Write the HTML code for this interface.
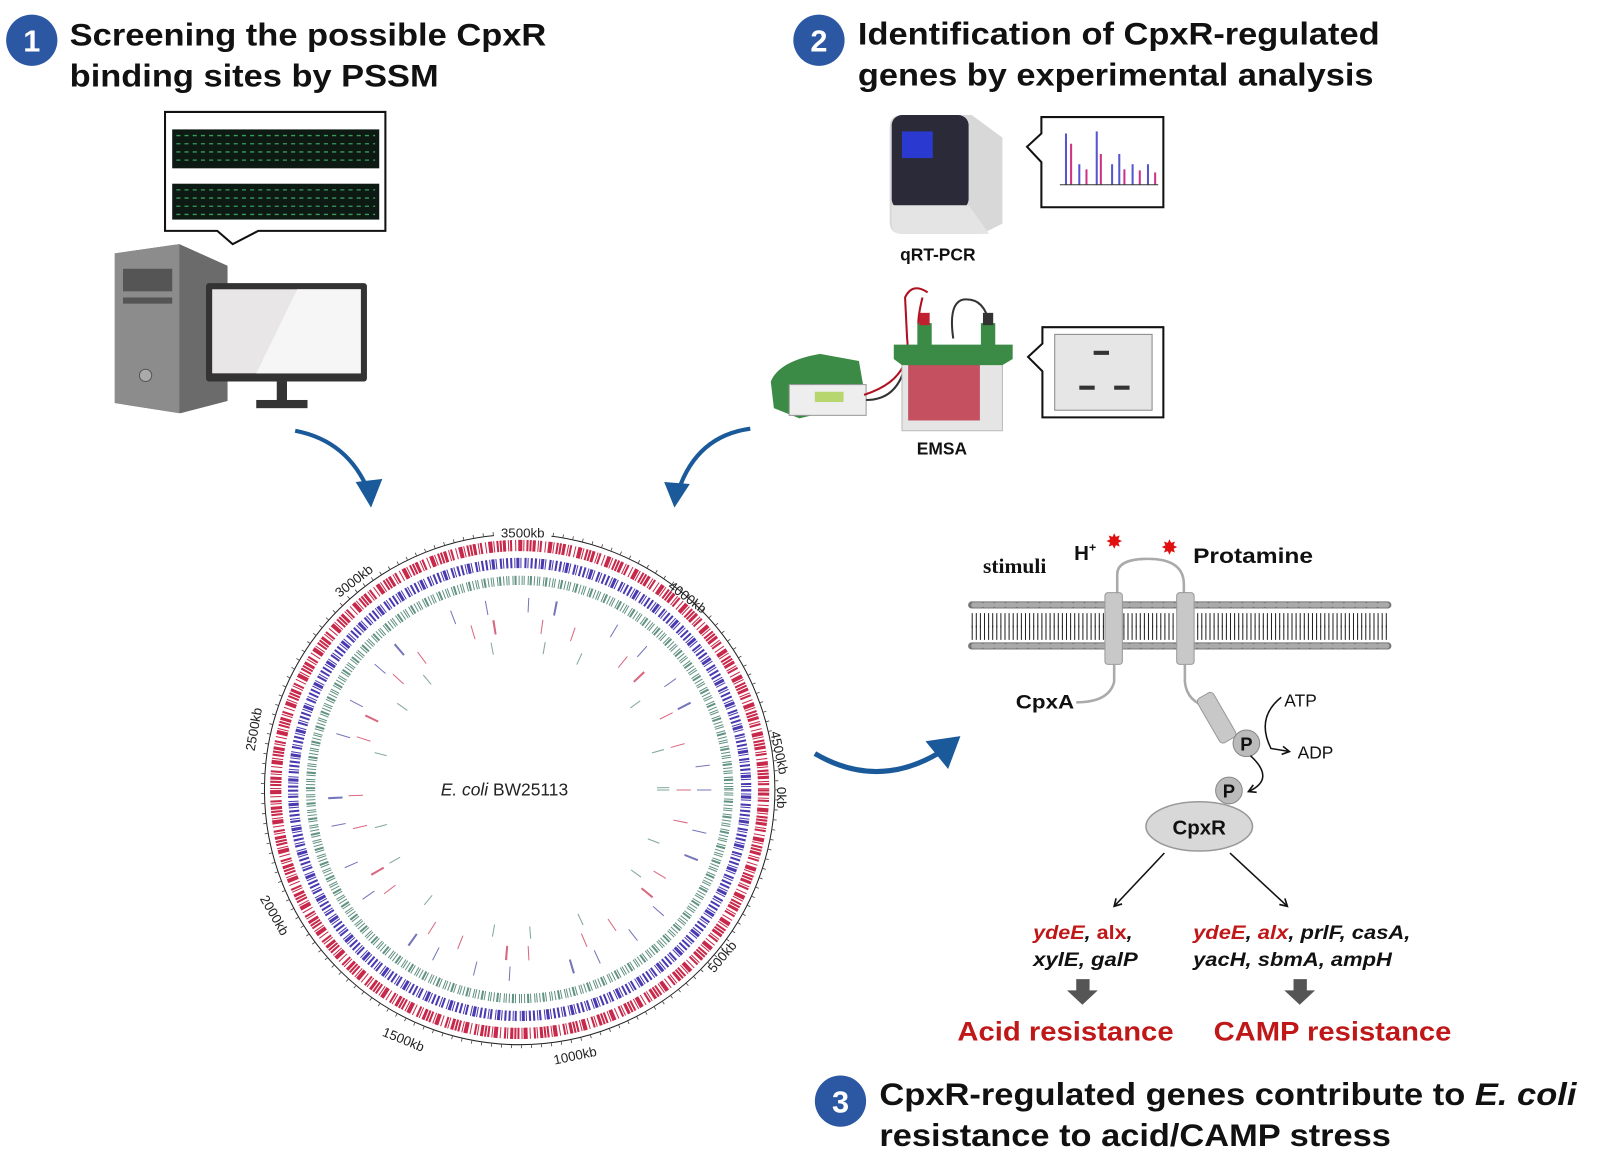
<!DOCTYPE html>
<html><head><meta charset="utf-8"><style>
html,body{margin:0;padding:0;background:#fff;width:1600px;height:1171px;overflow:hidden}
svg{display:block}
text{font-family:"Liberation Sans",Arial,sans-serif}
</style></head><body>
<svg width="1600" height="1171" viewBox="0 0 1561 1142" xmlns="http://www.w3.org/2000/svg">
<defs>
<marker id="ah" markerWidth="10" markerHeight="10" refX="8" refY="5" orient="auto" markerUnits="userSpaceOnUse"><path d="M1,1 L8,5 L1,9" fill="none" stroke="#111" stroke-width="1.6"/></marker>
</defs>
<!-- headings -->
<circle cx="31" cy="39" r="25" fill="#2b57a3"/>
<text x="31" y="50" font-size="30" font-weight="bold" fill="#fff" text-anchor="middle">1</text>
<text x="68" y="44" font-size="31" font-weight="bold" fill="#111" textLength="465" lengthAdjust="spacingAndGlyphs">Screening the possible CpxR</text>
<text x="68" y="84" font-size="31" font-weight="bold" fill="#111" textLength="360" lengthAdjust="spacingAndGlyphs">binding sites by PSSM</text>
<circle cx="799" cy="39" r="25" fill="#2b57a3"/>
<text x="799" y="50" font-size="30" font-weight="bold" fill="#fff" text-anchor="middle">2</text>
<text x="837" y="43" font-size="31" font-weight="bold" fill="#111" textLength="509" lengthAdjust="spacingAndGlyphs">Identification of CpxR-regulated</text>
<text x="837" y="83" font-size="31" font-weight="bold" fill="#111" textLength="503" lengthAdjust="spacingAndGlyphs">genes by experimental analysis</text>
<circle cx="820" cy="1074" r="25" fill="#2b57a3"/>
<text x="820" y="1085" font-size="30" font-weight="bold" fill="#fff" text-anchor="middle">3</text>
<text x="858" y="1078" font-size="31" font-weight="bold" fill="#111" textLength="680" lengthAdjust="spacingAndGlyphs">CpxR-regulated genes contribute to <tspan font-style="italic">E. coli</tspan></text>
<text x="858" y="1118" font-size="31" font-weight="bold" fill="#111" textLength="499" lengthAdjust="spacingAndGlyphs">resistance to acid/CAMP stress</text>

<!-- PSSM speech box -->
<path d="M161,109 H376 V225 H252 L227,238 L212,225 H161 Z" fill="#fff" stroke="#111" stroke-width="2"/>
<rect x="168" y="126" width="202" height="38" fill="#0d1a14"/>
<rect x="168" y="179" width="202" height="35" fill="#0d1a14"/>
<g stroke="#3b9a5a" stroke-width="1.3" stroke-dasharray="4 4">
<line x1="172" y1="132" x2="366" y2="132"/><line x1="172" y1="140" x2="366" y2="140"/><line x1="172" y1="148" x2="366" y2="148"/><line x1="172" y1="156" x2="366" y2="156"/>
<line x1="172" y1="185" x2="366" y2="185"/><line x1="172" y1="193" x2="366" y2="193"/><line x1="172" y1="201" x2="366" y2="201"/><line x1="172" y1="209" x2="366" y2="209"/>
</g>
<!-- computer -->
<path d="M112,247 L175,238 L222,259 V391 L176,403 L112,393 Z" fill="#6b6b6b"/>
<path d="M112,247 L175,238 V403 L112,393 Z" fill="#8c8c8c"/>
<rect x="120" y="262" width="48" height="22" fill="#555"/>
<rect x="120" y="290" width="48" height="6" fill="#555"/>
<circle cx="142" cy="366" r="6" fill="#aaa" stroke="#555"/>
<rect x="201" y="276" width="157" height="96" rx="3" fill="#333"/>
<rect x="207" y="282" width="145" height="82" fill="#e8e6e6"/>
<path d="M290,282 H352 V364 H250 Z" fill="#f6f6f6"/>
<rect x="270" y="372" width="10" height="20" fill="#333"/>
<rect x="250" y="390" width="50" height="8" fill="#333"/>

<!-- qPCR machine -->
<path d="M880,112 H948 L978,134 V218 L958,228 H880 Q868,228 868,216 V124 Q868,112 880,112 Z" fill="#d8d8d8"/>
<rect x="870" y="112" width="75" height="92" rx="10" fill="#2a2a38"/>
<rect x="880" y="128" width="30" height="26" fill="#2a3ad0"/>
<path d="M870,200 H945 L965,228 H880 Q870,228 870,218 Z" fill="#e4e4e4"/>
<text x="915" y="254" font-size="17" font-weight="bold" fill="#111" text-anchor="middle">qRT-PCR</text>
<path d="M1016,114 H1135 V202 H1016 V158 L1002,143 L1016,130 Z" fill="#fff" stroke="#111" stroke-width="2"/>
<g stroke-width="2">
<line x1="1040" y1="180" x2="1040" y2="130" stroke="#5556cc"/><line x1="1045" y1="180" x2="1045" y2="140" stroke="#cc3388"/>
<line x1="1053" y1="180" x2="1053" y2="160" stroke="#5556cc"/><line x1="1060" y1="180" x2="1060" y2="165" stroke="#cc3388"/>
<line x1="1070" y1="180" x2="1070" y2="128" stroke="#5556cc"/><line x1="1074" y1="180" x2="1074" y2="150" stroke="#cc3388"/>
<line x1="1085" y1="180" x2="1085" y2="160" stroke="#5556cc"/><line x1="1092" y1="180" x2="1092" y2="150" stroke="#5556cc"/>
<line x1="1097" y1="180" x2="1097" y2="165" stroke="#cc3388"/><line x1="1105" y1="180" x2="1105" y2="160" stroke="#5556cc"/>
<line x1="1112" y1="180" x2="1112" y2="166" stroke="#cc3388"/><line x1="1120" y1="180" x2="1120" y2="160" stroke="#5556cc"/>
<line x1="1127" y1="180" x2="1127" y2="168" stroke="#cc3388"/>
</g>
<line x1="1034" y1="180" x2="1130" y2="180" stroke="#333"/>
<!-- EMSA -->
<path d="M752,372 Q760,352 800,345 L838,352 L845,392 L780,408 L755,398 Z" fill="#3b8a45"/>
<rect x="770" y="375" width="75" height="30" fill="#eee" stroke="#999"/>
<rect x="795" y="382" width="28" height="10" fill="#b7d66e"/>
<path d="M900,290 Q890,330 905,325 M843,385 Q890,370 885,330 L883,290 Q890,275 905,285" fill="none" stroke="#b01020" stroke-width="2"/>
<path d="M845,390 Q880,390 885,345 M965,315 Q960,290 940,292 Q925,295 930,330" fill="none" stroke="#333" stroke-width="2"/>
<rect x="880" y="350" width="98" height="70" fill="#e5e5e5" stroke="#bbb"/>
<rect x="886" y="350" width="70" height="60" fill="#c45060"/>
<path d="M872,336 H988 V350 L978,356 H880 L872,350 Z" fill="#3b8a45"/>
<rect x="895" y="315" width="14" height="22" fill="#3b8a45"/><rect x="897" y="305" width="10" height="12" fill="#c02030"/>
<rect x="957" y="315" width="14" height="22" fill="#3b8a45"/><rect x="959" y="305" width="10" height="12" fill="#333"/>
<text x="919" y="443" font-size="17" font-weight="bold" fill="#111" text-anchor="middle">EMSA</text>
<path d="M1017,319 H1135 V407 H1017 V362 L1003,348 L1017,335 Z" fill="#fff" stroke="#111" stroke-width="2"/>
<rect x="1029" y="326" width="95" height="74" fill="#e6e6e6" stroke="#888"/>
<rect x="1067" y="342" width="15" height="4" fill="#333"/><rect x="1053" y="376" width="15" height="4" fill="#333"/><rect x="1087" y="376" width="15" height="4" fill="#333"/>

<!-- blue arrows -->
<path d="M288,420 Q340,430 360,480" fill="none" stroke="#1a5a9a" stroke-width="4"/>
<path d="M347,470 L362,495 L373,467 Z" fill="#1a5a9a"/>
<path d="M732,418 Q680,425 662,478" fill="none" stroke="#1a5a9a" stroke-width="4"/>
<path d="M648,470 L658,495 L673,472 Z" fill="#1a5a9a"/>
<path d="M795,735 Q855,770 915,735" fill="none" stroke="#1a5a9a" stroke-width="5"/>
<path d="M903,723 L937,718 L925,750 Z" fill="#1a5a9a"/>

<!-- genome circle -->
<g fill="none" transform="translate(507,770)">
<circle r="249" stroke="#222" stroke-width="1"/>
<circle r="251" stroke="#444" stroke-width="3" stroke-dasharray="0.8 9"/>
<circle r="238" stroke="#c8284a" stroke-width="11" stroke-dasharray="2 1 3 2 1 1 2 3 1 2 4 1 1 2 2 1"/>
<circle r="221" stroke="#4a3ab0" stroke-width="10" stroke-dasharray="2 2 1 1 3 1 1 3 2 1 1 2 2 2"/>
<circle r="204" stroke="#2e6e5a" stroke-width="9" stroke-dasharray="1 2 1 1 1 3 1 1 2 2" opacity="0.75"/>
<circle r="180" stroke="#3a3aa0" stroke-width="14" stroke-dasharray="1 40 1 25 2 60 1 33" opacity="0.7"/>
<circle r="160" stroke="#c8284a" stroke-width="14" stroke-dasharray="1 30 1 55 1 20 2 45" opacity="0.7"/>
<circle r="140" stroke="#2e6e5a" stroke-width="12" stroke-dasharray="1 50 1 35 1 70" opacity="0.6"/>
</g>
<text x="430" y="776" font-size="17" fill="#222"><tspan font-style="italic">E. coli</tspan> BW25113</text>
<g font-size="13" fill="#222" text-anchor="middle">
<rect x="482" y="512" width="56" height="14" fill="#fff"/>
<text x="510" y="524">3500kb</text>
<text transform="translate(668,586) rotate(37)">4000kb</text>
<text transform="translate(756,735) rotate(78)">4500kb</text>
<text transform="translate(758,778) rotate(90)">0kb</text>
<text transform="translate(708,936) rotate(-50)">500kb</text>
<text transform="translate(562,1034) rotate(-12)">1000kb</text>
<text transform="translate(392,1018) rotate(22)">1500kb</text>
<text transform="translate(264,895) rotate(60)">2000kb</text>
<text transform="translate(252,712) rotate(-80)">2500kb</text>
<text transform="translate(348,570) rotate(-38)">3000kb</text>
</g>

<!-- membrane -->
<g stroke="#222" stroke-width="0.8">
<line x1="948" y1="590" x2="1355" y2="590" stroke="#777" stroke-width="7" stroke-dasharray="10 1" stroke-linecap="round"/>
<line x1="948" y1="630" x2="1355" y2="630" stroke="#777" stroke-width="7" stroke-dasharray="10 1" stroke-linecap="round"/>
<line x1="948" y1="605" x2="1355" y2="605" stroke-width="14" stroke-dasharray="1 3"/>
<line x1="948" y1="617" x2="1355" y2="617" stroke-width="14" stroke-dasharray="1 3"/>
</g>
<line x1="950" y1="590" x2="1355" y2="590" stroke="#aaa" stroke-width="5" stroke-dasharray="7 4" stroke-linecap="round"/>
<line x1="950" y1="630" x2="1355" y2="630" stroke="#aaa" stroke-width="5" stroke-dasharray="7 4" stroke-linecap="round"/>
<path d="M1090,578 V560 Q1090,545 1120,545 Q1155,545 1155,570 V578" fill="none" stroke="#aaa" stroke-width="2.5"/>
<rect x="1078" y="578" width="17" height="70" rx="3" fill="#c8c8c8" stroke="#999"/>
<rect x="1148" y="578" width="17" height="70" rx="3" fill="#c8c8c8" stroke="#999"/>
<path d="M1087,648 V665 Q1082,685 1050,685" fill="none" stroke="#aaa" stroke-width="2.5"/>
<path d="M1156,648 V665 Q1158,685 1180,690" fill="none" stroke="#aaa" stroke-width="2.5"/>
<rect x="1178" y="675" width="18" height="50" rx="4" fill="#c8c8c8" stroke="#999" transform="rotate(-30 1187 700)"/>
<text x="959" y="559" font-size="21" font-weight="bold" style="font-family:'Liberation Serif',serif" fill="#111">stimuli</text>
<text x="1048" y="546" font-size="20" font-weight="bold" fill="#111">H<tspan font-size="12" dy="-8">+</tspan></text>
<text x="1087" y="535" font-size="20" fill="#e01010" text-anchor="middle">✸</text>
<text x="1141" y="541" font-size="20" fill="#e01010" text-anchor="middle">✸</text>
<text x="1164" y="549" font-size="21" font-weight="bold" fill="#111" textLength="117" lengthAdjust="spacingAndGlyphs">Protamine</text>
<text x="991" y="691" font-size="19" font-weight="bold" fill="#111" textLength="57" lengthAdjust="spacingAndGlyphs">CpxA</text>
<text x="1253" y="689" font-size="17" fill="#111">ATP</text>
<text x="1266" y="740" font-size="17" fill="#111">ADP</text>
<path d="M1250,680 Q1225,700 1240,730 L1258,733" fill="none" stroke="#111" stroke-width="1.5" marker-end="url(#ah)"/>
<circle cx="1216" cy="725" r="13" fill="#bbb" stroke="#888"/>
<text x="1216" y="732" font-size="18" font-weight="bold" text-anchor="middle" fill="#111">P</text>
<path d="M1220,737 Q1245,760 1218,772" fill="none" stroke="#111" stroke-width="1.5" marker-end="url(#ah)"/>
<circle cx="1199" cy="771" r="13" fill="#bbb" stroke="#888"/>
<text x="1199" y="778" font-size="18" font-weight="bold" text-anchor="middle" fill="#111">P</text>
<ellipse cx="1170" cy="806" rx="52" ry="24" fill="#d8d8d8" stroke="#999" stroke-width="1.5"/>
<text x="1170" y="814" font-size="20" font-weight="bold" text-anchor="middle" fill="#111">CpxR</text>
<line x1="1136" y1="832" x2="1087" y2="884" stroke="#111" stroke-width="1.5" marker-end="url(#ah)"/>
<line x1="1200" y1="832" x2="1256" y2="884" stroke="#111" stroke-width="1.5" marker-end="url(#ah)"/>
<g font-size="19" font-weight="bold" font-style="italic">
<text x="1008" y="916" textLength="97" lengthAdjust="spacingAndGlyphs"><tspan fill="#c01818">ydeE</tspan><tspan fill="#111">, </tspan><tspan fill="#c01818" font-style="normal">alx</tspan><tspan fill="#111">,</tspan></text>
<text x="1008" y="942" fill="#111" textLength="102" lengthAdjust="spacingAndGlyphs">xylE, galP</text>
<text x="1164" y="916" textLength="212" lengthAdjust="spacingAndGlyphs"><tspan fill="#c01818">ydeE</tspan><tspan fill="#111">, </tspan><tspan fill="#c01818">alx</tspan><tspan fill="#111">, prlF, casA,</tspan></text>
<text x="1164" y="942" fill="#111" textLength="194" lengthAdjust="spacingAndGlyphs">yacH, sbmA, ampH</text>
</g>
<path d="M1050,955 H1063 V966 H1071 L1056,980 L1041,966 H1050 Z" fill="#555"/>
<path d="M1262,955 H1275 V966 H1283 L1268,980 L1253,966 H1262 Z" fill="#555"/>
<text x="934" y="1015" font-size="26" font-weight="bold" fill="#c01818" textLength="211" lengthAdjust="spacingAndGlyphs">Acid resistance</text>
<text x="1184" y="1015" font-size="26" font-weight="bold" fill="#c01818" textLength="232" lengthAdjust="spacingAndGlyphs">CAMP resistance</text>
</svg>
</body></html>
